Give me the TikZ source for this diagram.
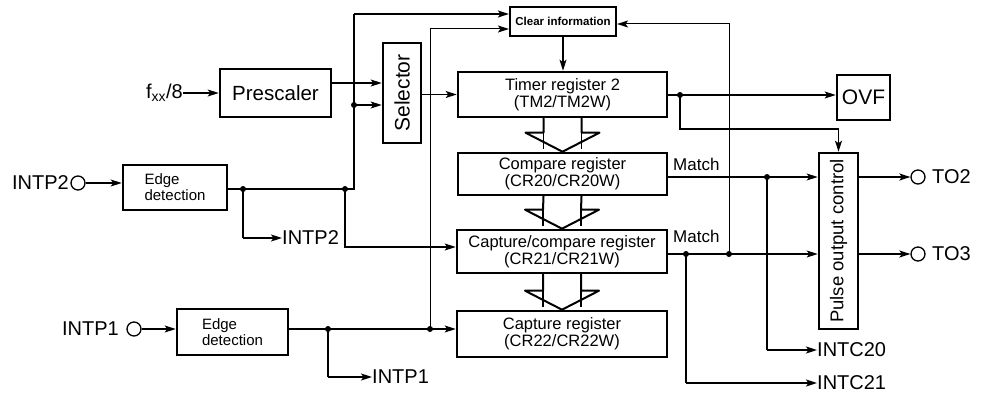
\documentclass[tikz,border=0pt]{standalone}
\usepackage{fontspec}
\setmainfont{Liberation Sans}
\usetikzlibrary{arrows.meta,calc}
\begin{document}
\begin{tikzpicture}[x=1pt,y=-1pt,
  box/.style={draw, line width=2.6pt, inner sep=0pt, align=center},
  con/.style={line width=1.4pt},
  thn/.style={line width=1pt},
  arr/.style={con, -{Stealth[length=11pt,width=7pt,inset=2.5pt]}},
  tarr/.style={thn, -{Stealth[length=11pt,width=7pt,inset=2.5pt]}},
  dot/.style={circle, fill, inner sep=0pt, minimum size=6pt},
  pinc/.style={circle, draw, line width=1.3pt, inner sep=0pt, minimum size=14pt},
  lbl/.style={inner sep=0pt, font=\fontsize{20}{22}\selectfont},
  blk/.style={line width=2pt, line join=round, line cap=round},
  regtxt/.style={font=\fontsize{16.5}{17}\selectfont}
]
\fill[white] (0,0) rectangle (985,396);
\path[use as bounding box] (0,0) rectangle (985,396);

% boxes
\node[box, minimum width=111pt, minimum height=48pt, font=\fontsize{20.5}{22}\selectfont] (pres) at (275.5,93) {Prescaler};
\node[box, minimum width=38pt, minimum height=100pt] (sel) at (402,93) {\rotatebox{90}{\fontsize{21}{22}\selectfont Selector}};
\node[box, line width=2.2pt, minimum width=106pt, minimum height=29pt, font=\bfseries\fontsize{11.5}{13}\selectfont] (clr) at (563,21.5) {Clear information};
\node[box, regtxt, minimum width=209pt, minimum height=45pt] (tm) at (562.5,94.5) {Timer register 2\\(TM2/TM2W)};
\node[box, regtxt, minimum width=209pt, minimum height=42pt] (cmp) at (562.5,174) {Compare register\\(CR20/CR20W)};
\node[box, regtxt, minimum width=210pt, minimum height=43pt] (cc) at (562,251.5) {Capture/compare register\\(CR21/CR21W)};
\node[box, regtxt, minimum width=210pt, minimum height=46pt] (cap) at (562,334) {Capture register\\(CR22/CR22W)};
\node[box, minimum width=53pt, minimum height=45pt, font=\fontsize{21}{23}\selectfont] (ovf) at (863.5,97.5) {OVF};
\node[box, minimum width=39pt, minimum height=176pt] (pulse) at (838.5,241) {\rotatebox{90}{\fontsize{18.5}{20}\selectfont Pulse output control}};
\node[box, align=left, minimum width=104pt, minimum height=45pt, font=\fontsize{15}{16}\selectfont] (e2) at (175,187.5) {Edge\\detection};
\node[box, align=left, minimum width=111pt, minimum height=46pt, font=\fontsize{15}{16}\selectfont] (e1) at (232.5,332) {Edge\\detection};

% pins and labels
\node[lbl, anchor=east] (fxx) at (183,93) {f\textsubscript{xx}/8};
\node[pinc] (p2) at (78,183) {};
\node[lbl, anchor=east] (lp2) at (69,183) {INTP2};
\node[pinc] (p1) at (134,329) {};
\node[lbl, anchor=east] (lp1) at (119,329) {INTP1};
\node[pinc] (t2) at (918,177) {};
\node[lbl, anchor=west] (lt2) at (932,177) {TO2};
\node[pinc] (t3) at (918,254) {};
\node[lbl, anchor=west] (lt3) at (932,254) {TO3};
\node[lbl, anchor=west] (i2) at (282,238) {INTP2};
\node[lbl, anchor=west] (i1) at (372,377) {INTP1};
\node[lbl, anchor=west] (c20) at (817,350) {INTC20};
\node[lbl, anchor=west] (c21) at (817,383) {INTC21};
\node[inner sep=0pt, anchor=base west, font=\fontsize{17}{18}\selectfont] (m1) at (673,170) {Match};
\node[inner sep=0pt, anchor=base west, font=\fontsize{17}{18}\selectfont] (m2) at (673,242) {Match};

% junctions
\node[dot] (j1) at (243,189) {};
\node[dot] (j2) at (345,189) {};
\node[dot] (j3) at (354,105) {};
\node[dot] (j4) at (328,329) {};
\node[dot] (j5) at (430,329) {};
\node[dot] (j6) at (680,95) {};
\node[dot] (j7) at (767,177) {};
\node[dot] (j8) at (686,254) {};
\node[dot] (j9) at (729,254) {};
\coordinate (k1) at (354,189);
\coordinate (k2) at (354,14);
\coordinate (k3) at (243,238);
\coordinate (k4) at (345,247);
\coordinate (k5) at (430,29);
\coordinate (k6) at (328,377);
\coordinate (k8) at (680,129);
\coordinate (k9) at (767,350);
\coordinate (k10) at (686,383);
\coordinate (k11) at (729,24);
\coordinate (y83) at (0,83);

% connectors
\draw[arr] (fxx) -- (pres);
\draw[arr] (pres.east |- y83) -- (sel.west |- y83);
\draw[arr] (p2) -- (p2 -| e2.west);
\draw[con] (e2.east |- j1) -- (j1.center) -- (j2.center) -- (k1) -- (j3.center) -- (k2);
\draw[arr] (k2) -- (k2 -| clr.west);
\draw[arr] (j3.center) -- (j3 -| sel.west);
\draw[con] (j1.center) -- (k3);
\draw[arr] (k3) -- (i2.west);
\draw[arr] (j2.center) -- (k4) -- (k4 -| cc.west);
\draw[arr] (p1) -- (p1 -| e1.west);
\draw[con] (e1.east |- j4) -- (j4.center);
\draw[arr] (j4.center) -- (j5 -| cap.west);
\draw[tarr] (j5.center) -- (k5) -- (k5 -| clr.west);
\draw[con] (j4.center) -- (k6);
\draw[arr] (k6) -- (i1.west);
\draw[arr] (sel.east |- tm.west) -- (tm.west);
\draw[arr] (clr.south) -- (clr.south |- tm.north);
\draw[con] (tm.east |- j6) -- (j6.center);
\draw[arr] (j6.center) -- (j6 -| ovf.west);
\draw[arr] (j6.center) -- (k8) -- (pulse.north |- k8) -- (pulse.north);
\draw[arr] (cmp.east |- j7) -- (j7 -| pulse.west);
\draw[con] (j7.center) -- (k9);
\draw[arr] (k9) -- (c20.west);
\draw[arr] (cc.east |- j8) -- (j8 -| pulse.west);
\draw[con] (j8.center) -- (k10);
\draw[arr] (k10) -- (c21.west);
\draw[tarr] (j9.center) -- (k11) -- (k11 -| clr.east);
\draw[arr] (pulse.east |- t2) -- (t2);
\draw[arr] (pulse.east |- t3) -- (t3);

% block arrows between registers
\foreach \a/\b in {tm/cmp, cmp/cc, cc/cap}{
  \draw[blk] ($(\a.south)+(-19,0)$) -- ($(\b.north)+(-19,-19)$) -- ($(\b.north)+(-37,-19)$) -- (\b.north) -- ($(\b.north)+(37,-19)$) -- ($(\b.north)+(19,-19)$) -- ($(\a.south)+(19,0)$);
  \draw[line width=1.2pt] ($(\b.north)+(-19,-19)$) -- ($(\b.north)+(-19,-3)$);
  \draw[line width=1.2pt] ($(\b.north)+(19,-19)$) -- ($(\b.north)+(19,-3)$);
}
\end{tikzpicture}
\end{document}
